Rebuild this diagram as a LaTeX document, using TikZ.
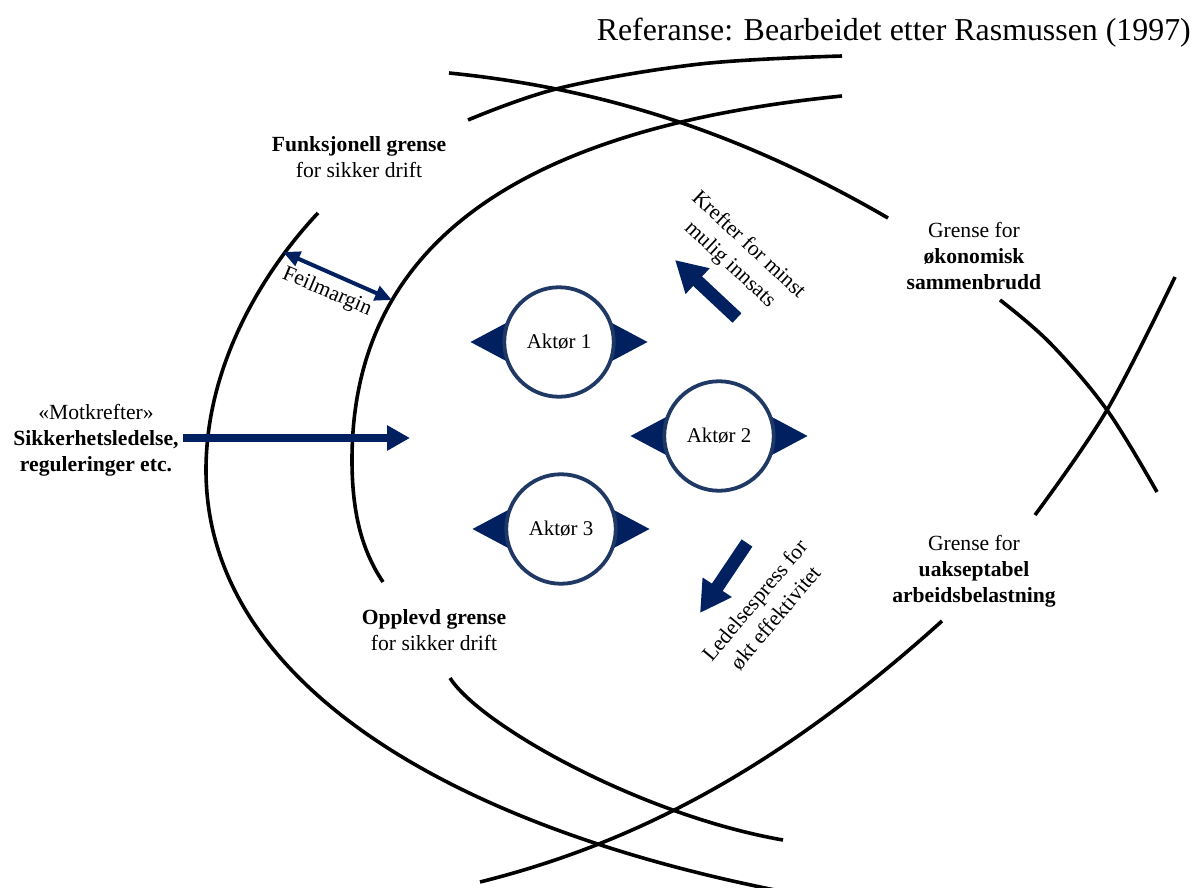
\documentclass[tikz,border=0pt]{standalone}
\usepackage{fontspec}
\setmainfont{Liberation Serif}
\usetikzlibrary{arrows.meta,calc}
\definecolor{navy}{RGB}{0,32,96}
\definecolor{ringblue}{RGB}{31,56,100}

\begin{document}
\begin{tikzpicture}[x=1bp,y=-1bp,
  boundary/.style={line width=3.6bp},
  lbl/.style={align=center, inner sep=0pt, font=\fontsize{21.7}{26}\selectfont},
  actor/.style={circle, draw=ringblue, line width=3.8bp, fill=white,
    minimum size=109.5bp, inner sep=0pt, font=\fontsize{21}{25}\selectfont},
  force/.style={draw=navy, line width=13bp, -{Triangle[length=31bp,width=33bp]}},
  counter/.style={draw=navy, line width=8bp, -{Triangle[length=23bp,width=24bp]}},
  margin/.style={draw=navy, line width=4bp,
    {Triangle[length=17bp,width=15bp]}-{Triangle[length=17bp,width=15bp]}},
  wing/.style={fill=navy}
]
\useasboundingbox (0,0) rectangle (1193,888);

% source line
\node[anchor=base east, inner sep=0pt, font=\fontsize{32}{38}\selectfont] (ref)
  at (1191,40) {Referanse: Bearbeidet etter Rasmussen (1997)};

% functional boundary (outer arc)
\draw[boundary] plot[smooth, tension=0.6] coordinates
  {(842,56) (700,64) (560,88) (468,120)};
\draw[boundary] (318,213) .. controls (268,266) and (206,360) .. (206,470)
  .. controls (206,680) and (445,824) .. (775,890);

% perceived boundary (inner arc)
\draw[boundary] (842,96) .. controls (542,126) and (352,230) .. (352,460)
  .. controls (352,520) and (365,555) .. (383,582);
\draw[boundary] (450,678) .. controls (480,725) and (640,815) .. (783,840);

% economic failure boundary
\draw[boundary] (449,73) .. controls (599,88) and (738,131) .. (888,218);
\draw[boundary] plot[smooth, tension=0.6] coordinates
  {(1000,300) (1050,343) (1107,410) (1157,492)};

% unacceptable workload boundary
\draw[boundary] (480,882) .. controls (640,842) and (782,765) .. (942,621);
\draw[boundary] plot[smooth, tension=0.6] coordinates
  {(1035,515) (1107,410) (1175,277)};

% boundary labels
\node[lbl] (funk) at (359,157) {\textbf{Funksjonell grense}\\for sikker drift};
\node[lbl] (opp) at (434,630) {\textbf{Opplevd grense}\\for sikker drift};
\node[lbl] (econ) at (974,256) {Grense for\\\textbf{økonomisk}\\\textbf{sammenbrudd}};
\node[lbl] (work) at (974,571) {Grense for\\\textbf{uakseptabel}\\\textbf{arbeidsbelastning}};
\node[lbl] (mot) at (96,440) {«Motkrefter»\\\textbf{Sikkerhetsledelse,}\\\textbf{reguleringer etc.}};

% error margin
\coordinate (fm1) at (283,252);
\coordinate (fm2) at (392,300);
\draw[margin] (fm1) -- (fm2);
\node[lbl, rotate=-23] (fml) at (327,292) {Feilmargin};

% counter forces
\coordinate (ct) at (183,438);
\coordinate (ch) at (410,438);
\draw[counter] (ct) -- (ch);

% gradients
\coordinate (kt) at (737,318);
\coordinate (kh) at (675,260);
\draw[force] (kt) -- (kh);
\node[lbl, rotate=-43, font=\fontsize{21.7}{27}\selectfont] (kl) at (739,255)
  {Krefter for minst\\mulig innsats};

\coordinate (lt) at (747,543);
\coordinate (lh) at (700,613);
\draw[force] (lt) -- (lh);
\node[lbl, rotate=50, font=\fontsize{21.7}{27}\selectfont] (ll) at (765,609)
  {Ledelsespress for\\økt effektivitet};

% actors with their movement wings
\coordinate (c1) at (559,342);
\coordinate (c2) at (719,436);
\coordinate (c3) at (561,529);
\foreach \c in {c1,c2,c3}{
  \fill[wing] ($(\c)+(-50,-20.5)$) -- ($(\c)+(-88.5,0)$) -- ($(\c)+(-50,20.5)$) -- cycle;
  \fill[wing] ($(\c)+(50,-20.5)$) -- ($(\c)+(88.5,0)$) -- ($(\c)+(50,20.5)$) -- cycle;
}
\node[actor] (a1) at (c1) {Aktør 1};
\node[actor] (a2) at (c2) {Aktør 2};
\node[actor] (a3) at (c3) {Aktør 3};
\end{tikzpicture}
\end{document}
